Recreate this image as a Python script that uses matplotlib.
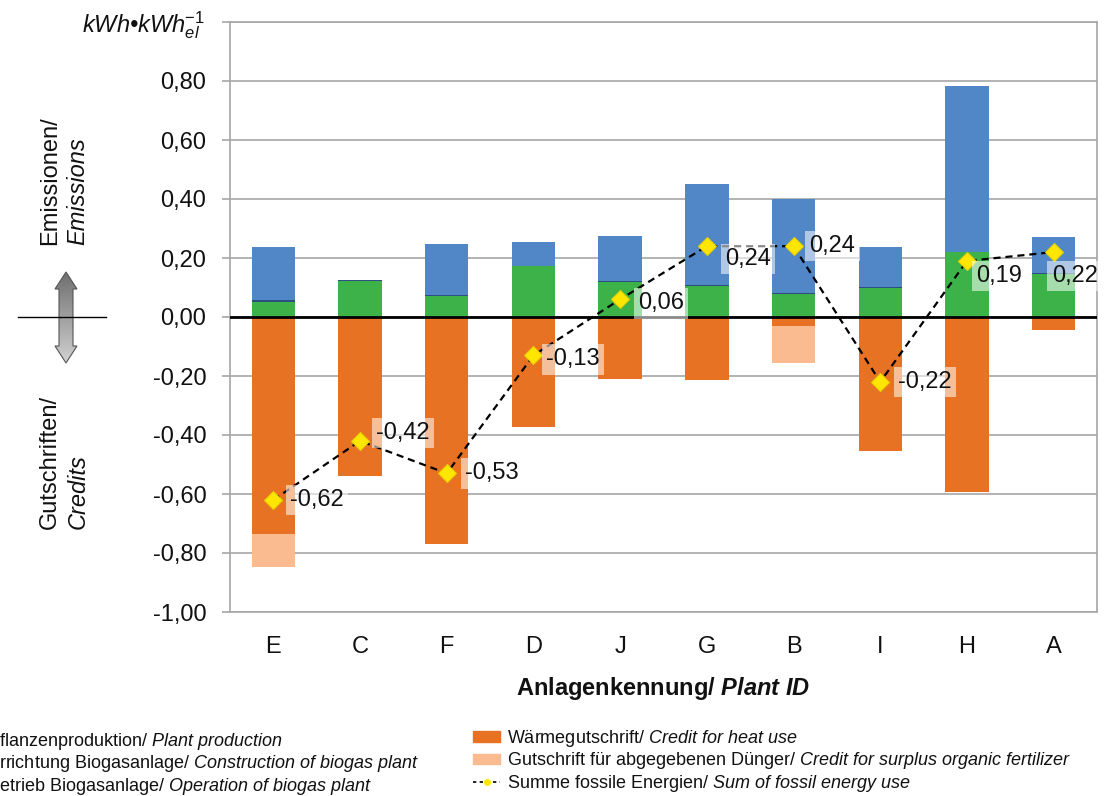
import numpy as np
import matplotlib
matplotlib.use("Agg")
import matplotlib.pyplot as plt
from matplotlib.patches import Polygon, Patch
from matplotlib.lines import Line2D

plt.rcParams['font.family'] = ['Liberation Sans', 'DejaVu Sans']
plt.rcParams['mathtext.fontset'] = 'custom'
plt.rcParams['mathtext.rm'] = 'Liberation Sans'
plt.rcParams['mathtext.it'] = 'Liberation Sans:italic'
plt.rcParams['mathtext.bf'] = 'Liberation Sans:bold'
plt.rcParams['mathtext.bfit'] = 'Liberation Sans:bold:italic'

# ---------------- data ----------------
plants = ['E', 'C', 'F', 'D', 'J', 'G', 'B', 'I', 'H', 'A']
plant_production = [0.052, 0.122, 0.072, 0.174, 0.118, 0.105, 0.078, 0.100, 0.219, 0.146]
construction = [0.004, 0.004, 0.004, 0.000, 0.003, 0.002, 0.002, 0.002, 0.003, 0.002]
operation = [0.180, 0.000, 0.171, 0.081, 0.154, 0.345, 0.320, 0.136, 0.562, 0.122]
heat_credit = [-0.734, -0.538, -0.770, -0.372, -0.210, -0.212, -0.030, -0.453, -0.592, -0.044]
fertilizer_credit = [-0.112, 0.0, 0.0, 0.0, 0.0, 0.0, -0.126, 0.0, 0.0, 0.0]
fossil_sum = [-0.62, -0.42, -0.53, -0.13, 0.06, 0.24, 0.24, -0.22, 0.19, 0.22]
y_ticks = [-1.0, -0.8, -0.6, -0.4, -0.2, 0.0, 0.2, 0.4, 0.6, 0.8, 1.0]
y_ticklabels = ['-1,00', '-0,80', '-0,60', '-0,40', '-0,20', '0,00',
                '0,20', '0,40', '0,60', '0,80', '']

labels_left = ["Pflanzenproduktion/ $\\mathit{Plant\\ production}$",
               "Errichtung Biogasanlage/ $\\mathit{Construction\\ of\\ biogas\\ plant}$",
               "Betrieb Biogasanlage/ $\\mathit{Operation\\ of\\ biogas\\ plant}$"]
labels_right = ["Wärmegutschrift/ $\\mathit{Credit\\ for\\ heat\\ use}$",
                "Gutschrift für abgegebenen Dünger/ $\\mathit{Credit\\ for\\ surplus\\ organic\\ fertilizer}$",
                "Summe fossile Energien/ $\\mathit{Sum\\ of\\ fossil\\ energy\\ use}$"]

# label offsets (pixels) relative to markers - layout only
label_offsets = [(17, 0), (16, 8), (18, 0), (13, -4), (18, -4),
                 (18, -13), (16, 0), (18, 0), (9, -15), (-2, -24)]

# ---------------- style ----------------
C_GREEN = '#3DB249'
C_CONSTR = '#2B4F80'
C_BLUE = '#5187C7'
C_ORANGE = '#E87224'
C_LORANGE = '#F9BB8F'
C_YELLOW = '#FFE600'
GRID = '#A6A6A6'
TXT = '#111111'

W, H = 1104, 796
fig = plt.figure(figsize=(W / 100, H / 100), dpi=100)

def fx(px):
    return px / W

def fy(py):
    return 1 - py / H

ax = fig.add_axes([fx(230), fy(612), fx(1097) - fx(230), fy(22) - fy(612)])

x = np.arange(len(plants))
bw = 0.5
pp = np.array(plant_production)
co = np.array(construction)
op = np.array(operation)
hc = np.array(heat_credit)
fc = np.array(fertilizer_credit)

ax.bar(x, pp, bw, color=C_GREEN, zorder=3)
ax.bar(x, co, bw, bottom=pp, color=C_CONSTR, zorder=3)
ax.bar(x, op, bw, bottom=pp + co, color=C_BLUE, zorder=3)
ax.bar(x, hc, bw, color=C_ORANGE, zorder=3)
ax.bar(x, fc, bw, bottom=hc, color=C_LORANGE, zorder=3)

ax.axhline(0, color='black', lw=2.0, zorder=4)

ax.plot(x, fossil_sum, color='black', lw=1.6, ls=(0, (3.2, 2.2)), zorder=5)
ax.plot(x, fossil_sum, ls='none', marker='D', ms=9, mfc=C_YELLOW,
        mec='#E6CF00', mew=0.8, zorder=6)

for xi, yi, (dx, dy) in zip(x, fossil_sum, label_offsets):
    ax.annotate(f"{yi:.2f}".replace('.', ','), (xi, yi), xytext=(dx, dy),
                textcoords='offset pixels', ha='left', va='center',
                fontsize=17, color=TXT, zorder=7,
                bbox=dict(boxstyle='square,pad=0.18', fc='white', ec='none', alpha=0.55))

ax.set_xlim(-0.5, len(plants) - 0.5)
ax.set_ylim(-1.0, 1.0)
ax.set_yticks(y_ticks)
ax.set_yticklabels(y_ticklabels)
ax.set_xticks(x)
ax.set_xticklabels(plants)
ax.yaxis.grid(True, color=GRID, lw=1.2)
ax.set_axisbelow(True)
for s in ax.spines.values():
    s.set_color(GRID)
    s.set_linewidth(1.2)
ax.tick_params(axis='y', direction='out', length=6, width=1.2, color=GRID,
               labelsize=17, labelcolor=TXT, pad=11)
ax.tick_params(axis='x', length=0, labelsize=17, labelcolor=TXT, pad=17)

# axis title / x label
fig.text(fx(205), fy(25), "kWh•kWh$_{\\mathit{el}}^{\\mathit{-1}}$", ha='right', va='center',
         fontsize=17, style='italic', color=TXT)
fig.text(fx(663), fy(688), r"Anlagenkennung/ $\mathbfit{Plant\ ID}$", ha='center',
         va='center', fontsize=17, fontweight='bold', color=TXT)

# side labels
fig.text(fx(50), fy(245), "Emissionen/", rotation=90, ha='center', va='bottom',
         fontsize=17, color=TXT)
fig.text(fx(78), fy(245), "Emissions", rotation=90, ha='center', va='bottom',
         fontsize=17, style='italic', color=TXT)
fig.text(fx(50), fy(529), "Gutschriften/", rotation=90, ha='center', va='bottom',
         fontsize=17, color=TXT)
fig.text(fx(78), fy(529), "Credits", rotation=90, ha='center', va='bottom',
         fontsize=17, style='italic', color=TXT)

# double arrow with gradient
cx, top, bot = 66, 272, 363
sw, hw, hl = 7, 11, 17
pts = [(cx, top), (cx + hw, top + hl), (cx + sw, top + hl), (cx + sw, bot - hl),
       (cx + hw, bot - hl), (cx, bot), (cx - hw, bot - hl), (cx - sw, bot - hl),
       (cx - sw, top + hl), (cx - hw, top + hl)]
aax = fig.add_axes([fx(cx - hw - 1), fy(bot + 1), fx(2 * hw + 2), fy(top - 1) - fy(bot + 1)])
aax.set_xlim(cx - hw - 1, cx + hw + 1)
aax.set_ylim(bot + 1, top - 1)
aax.axis('off')
grad = np.linspace(0, 1, 100).reshape(-1, 1)
im = aax.imshow(grad, cmap=matplotlib.colors.LinearSegmentedColormap.from_list(
    'g', ['#6E6E6E', '#D2D2D2']), extent=(cx - hw - 1, cx + hw + 1, bot + 1, top - 1),
    origin='upper', aspect='auto', zorder=1)
poly = Polygon(pts, closed=True, fc='none', ec='#555555', lw=0.8, zorder=2)
aax.add_patch(poly)
im.set_clip_path(poly)
fig.add_artist(Line2D([fx(18), fx(106)], [fy(317), fy(317)], color='black', lw=1.0, zorder=10))

# legends (left column is cropped by the figure edge, as in the reference)
fs_leg = 13
fs_px = fs_leg * 100 / 72
h_left = [Patch(color=C_GREEN), Patch(color=C_CONSTR), Patch(color=C_BLUE)]
h_right = [Patch(color=C_ORANGE), Patch(color=C_LORANGE),
           Line2D([], [], color='black', ls=(0, (2, 2)), lw=1.2, marker='o', ms=4,
                  mfc=C_YELLOW, mec=C_YELLOW)]
leg1 = fig.legend(h_left, labels_left, loc='upper right', bbox_to_anchor=(fx(419), fy(731)),
                  bbox_transform=fig.transFigure, frameon=False, fontsize=fs_leg,
                  borderpad=0, borderaxespad=0, handlelength=27 / fs_px,
                  handletextpad=7 / fs_px, labelspacing=0.08, handleheight=0.5)
leg2 = fig.legend(h_right, labels_right, loc='upper left', bbox_to_anchor=(fx(473), fy(728)),
                  bbox_transform=fig.transFigure, frameon=False, fontsize=fs_leg,
                  borderpad=0, borderaxespad=0, handlelength=27 / fs_px,
                  handletextpad=7 / fs_px, labelspacing=0.08, handleheight=0.5)
for lg in (leg1, leg2):
    for t in lg.get_texts():
        t.set_color(TXT)

fig.savefig("out.png", dpi=100)
